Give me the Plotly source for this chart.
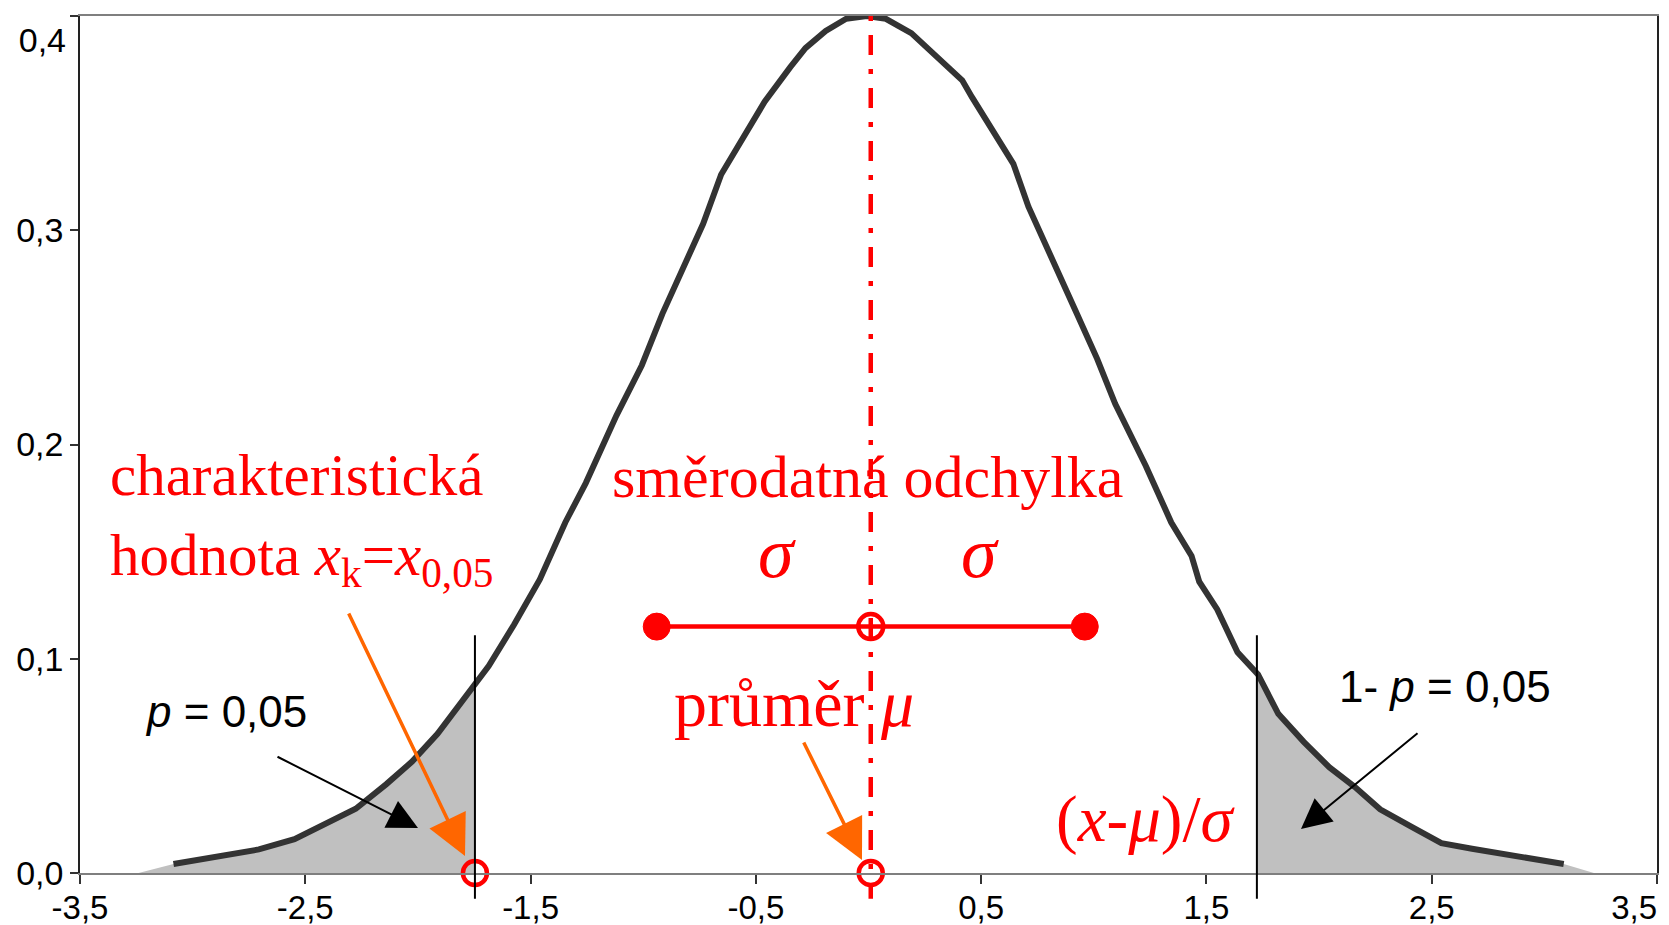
import plotly.graph_objects as go

# ---------------- data ----------------
curve_x = [-3.085, -2.899, -2.706, -2.548, -2.410, -2.276, -2.140, -2.026, -1.913, -1.777,
           -1.686, -1.573, -1.459, -1.346, -1.255, -1.119, -1.006, -0.915, -0.824, -0.734,
           -0.654, -0.530, -0.461, -0.348, -0.280, -0.190, -0.099, -0.008,
           0.077, 0.190, 0.300, 0.416, 0.460, 0.575, 0.643, 0.710, 0.834, 0.925,
           1.015, 1.095, 1.231, 1.265, 1.344, 1.434, 1.468, 1.548, 1.638, 1.729,
           1.819, 1.932, 2.045, 2.158, 2.271, 2.407, 2.543, 2.679, 2.860, 3.086]
curve_y = [0.0042, 0.0074, 0.0110, 0.0158, 0.0230, 0.0300, 0.0415, 0.0520, 0.0650, 0.0835,
           0.0966, 0.1160, 0.1370, 0.1636, 0.1820, 0.2135, 0.2370, 0.2610, 0.2820, 0.3030,
           0.3260, 0.3470, 0.3600, 0.3760, 0.3850, 0.3930, 0.3987, 0.4000,
           0.3987, 0.3920, 0.3816, 0.3700, 0.3620, 0.3430, 0.3310, 0.3110, 0.2830, 0.2610,
           0.2400, 0.2190, 0.1900, 0.1820, 0.1636, 0.1480, 0.1360, 0.1230, 0.1030, 0.0927,
           0.0743, 0.0612, 0.0494, 0.0402, 0.0297, 0.0218, 0.0139, 0.0113, 0.0081, 0.0042]

x_tick_values = [-3.5, -2.5, -1.5, -0.5, 0.5, 1.5, 2.5, 3.5]
x_tick_labels = ["-3,5", "-2,5", "-1,5", "-0,5", "0,5", "1,5", "2,5",
                 "3,5\u00a0\u00a0\u00a0\u00a0\u00a0"]
y_tick_values = [0.0, 0.1, 0.2, 0.3, 0.4]
y_tick_labels = ["0,0", "0,1", "0,2", "0,3", "0,4"]

mean_value = 0.01
sigma_points_x = [-0.94, 0.01, 0.96]
sigma_level = 0.115
critical_x = [-1.747, 1.724]
critical_density = [0.0863, 0.0887]
critical_line_top = 0.111
below_axis = -0.012
tail_start = -3.24
tail_end = 3.22
circle_points_x = [-1.747, 0.01]
circle_points_y = [0.0, 0.0]

X_RANGE = [-3.5, 3.5]
Y_RANGE = [0.0, 0.4]

# ---------------- page geometry (browser body adds an 8px margin) ----------------
BODY = 8
PAGE_W, PAGE_H = 1669, 925
PLOT_LEFT, PLOT_RIGHT, PLOT_TOP, PLOT_BOTTOM = 80, 1657, 16, 873
W, H = PAGE_W - BODY, PAGE_H - BODY
ML = PLOT_LEFT - BODY
MT = PLOT_TOP - BODY
MR = W - (PLOT_RIGHT - BODY)
MB = H - (PLOT_BOTTOM - BODY)


def px2x(px):
    return X_RANGE[0] + (px - PLOT_LEFT) / (PLOT_RIGHT - PLOT_LEFT) * (X_RANGE[1] - X_RANGE[0])


def px2y(py):
    return Y_RANGE[0] + (PLOT_BOTTOM - py) / (PLOT_BOTTOM - PLOT_TOP) * (Y_RANGE[1] - Y_RANGE[0])


RED = "#ff0000"
ORANGE = "#ff6600"
SERIF = "Liberation Serif, Times New Roman, serif"
SANS = "Liberation Sans, Arial, sans-serif"

fig = go.Figure()

# grey tails
lx = [tail_start] + [x for x in curve_x if x < critical_x[0]] + [critical_x[0]]
ly = [0.0] + [y for x, y in zip(curve_x, curve_y) if x < critical_x[0]] + [critical_density[0]]
rx = [critical_x[1]] + [x for x in curve_x if x > critical_x[1]] + [tail_end]
ry = [critical_density[1]] + [y for x, y in zip(curve_x, curve_y) if x > critical_x[1]] + [0.0]
for tx, ty in ((lx, ly), (rx, ry)):
    fig.add_trace(go.Scatter(x=tx, y=ty, mode="lines", fill="tozeroy",
                             fillcolor="#c0c0c0", line=dict(width=0, color="#c0c0c0"),
                             hoverinfo="skip", showlegend=False))

# density curve
fig.add_trace(go.Scatter(x=curve_x, y=curve_y, mode="lines",
                         line=dict(color="#333333", width=6), showlegend=False))

# sigma segment
fig.add_trace(go.Scatter(x=sigma_points_x, y=[sigma_level] * len(sigma_points_x),
                         mode="lines", line=dict(color=RED, width=4.5),
                         showlegend=False))
fig.add_trace(go.Scatter(x=[sigma_points_x[0], sigma_points_x[2]],
                         y=[sigma_level, sigma_level], mode="markers", cliponaxis=False,
                         marker=dict(symbol="circle", size=27, color=RED, opacity=1,
                                     line=dict(color=RED, width=1)),
                         showlegend=False))
fig.add_trace(go.Scatter(x=[sigma_points_x[1]], y=[sigma_level], mode="markers",
                         cliponaxis=False,
                         marker=dict(symbol="circle", size=25, color="rgba(0,0,0,0)",
                                     opacity=1, line=dict(color=RED, width=4.5)),
                         showlegend=False))

# open circles on the axis (on the overlay y axis, which has the same range)
fig.add_trace(go.Scatter(x=circle_points_x, y=circle_points_y, mode="markers",
                         cliponaxis=False, yaxis="y2",
                         marker=dict(symbol="circle", size=24, color="rgba(0,0,0,0)",
                                     opacity=1, line=dict(color=RED, width=4.5)),
                         showlegend=False))

shapes = []
for cx in critical_x:
    shapes.append(dict(type="line", xref="x", yref="paper", x0=cx, x1=cx,
                       y0=below_axis / Y_RANGE[1], y1=critical_line_top / Y_RANGE[1],
                       line=dict(color="black", width=2)))
shapes.append(dict(type="line", xref="x", yref="paper", x0=mean_value, x1=mean_value,
                   y0=1.0, y1=below_axis / Y_RANGE[1],
                   line=dict(color=RED, width=4.5, dash="5px,14px,20px,14px")))

annotations = []


def text(s, left_px, center_py, size, family, anchor="left", color=RED):
    annotations.append(dict(text=s, x=px2x(left_px), y=px2y(center_py), xref="x", yref="y",
                            xanchor=anchor, yanchor="middle", showarrow=False,
                            font=dict(family=family, size=size, color=color)))


text("charakteristická", 108, 475, 59, SERIF)
text("hodnota <i>x</i><sub>k</sub>=<i>x</i><sub>0,05</sub>", 108, 559, 59, SERIF)
text("směrodatná odchylka", 868, 477, 60, SERIF, anchor="center")
text("<i>σ</i>", 777, 553, 72, SERIF, anchor="center")
text("<i>σ</i>", 980, 553, 72, SERIF, anchor="center")
text("průměr\u00a0<i>μ</i>", 672, 703, 66, SERIF)
text("(<i>x</i>-<i>μ</i>)/<i>σ</i>", 1054, 819, 65, SERIF)
text("<i>p</i> = 0,05", 143, 711, 44, SANS, color="black")
text("1- <i>p</i> = 0,05", 1337, 686, 44, SANS, color="black")


def arrow(tail_px, tip_px, color, width, size):
    annotations.append(dict(text="", x=px2x(tip_px[0]), y=px2y(tip_px[1]),
                            ax=px2x(tail_px[0]), ay=px2y(tail_px[1]),
                            xref="x", yref="y", axref="x", ayref="y",
                            showarrow=True, arrowhead=2, arrowsize=size,
                            arrowwidth=width, arrowcolor=color, standoff=0))


arrow((276, 756), (418, 828), "black", 2, 3)
arrow((1419, 732), (1301, 829), "black", 2, 3)
arrow((348, 612), (465, 856), ORANGE, 3.5, 2.3)
arrow((803, 741), (862, 860), ORANGE, 3.5, 2.3)

# the top label sits just below its tick (as in the original), the others are centred
main_y_text = y_tick_labels[:-1] + [""]

fig.update_layout(
    template="none",
    width=W, height=H,
    margin=dict(l=ML, r=MR, t=MT, b=MB, autoexpand=False),
    paper_bgcolor="white", plot_bgcolor="white",
    showlegend=False,
    shapes=shapes, annotations=annotations,
    xaxis=dict(range=X_RANGE, tickvals=x_tick_values, ticktext=x_tick_labels,
               ticks="outside", ticklen=9, tickwidth=1.5, tickcolor="#333333",
               showline=True, linecolor="#7f7f7f", linewidth=2, mirror=True,
               showgrid=False, zeroline=False, automargin=False,
               ticklabeloverflow="allow", ticklabelstandoff=-5,
               tickfont=dict(family=SANS, size=33, color="black")),
    yaxis=dict(range=Y_RANGE, tickvals=y_tick_values, ticktext=main_y_text,
               ticks="outside", ticklen=8, tickwidth=1.5, tickcolor="#333333",
               showline=True, linecolor="#222222", linewidth=1.5, mirror=True,
               showgrid=False, zeroline=False, automargin=False,
               ticklabeloverflow="allow",
               tickfont=dict(family=SANS, size=34, color="black")),
    yaxis2=dict(range=Y_RANGE, overlaying="y", side="left",
                tickvals=[y_tick_values[-1]], ticktext=[y_tick_labels[-1]],
                ticks="", ticklabelposition="outside bottom",
                showline=False, showgrid=False, zeroline=False, automargin=False,
                ticklabeloverflow="allow", ticklabelstandoff=13,
                tickfont=dict(family=SANS, size=34, color="black")),
)

fig.write_html("out.html")
